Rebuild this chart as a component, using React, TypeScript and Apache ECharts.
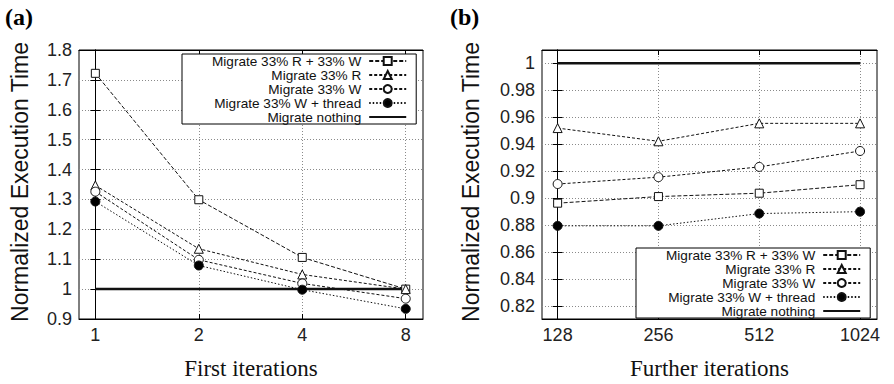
import React, { useEffect, useRef } from "react";
import * as echarts from "echarts";

const seriesNames = [
  "Migrate 33% R + 33% W",
  "Migrate 33% R",
  "Migrate 33% W",
  "Migrate 33% W + thread",
  "Migrate nothing",
];

const firstIterLabels = ["1", "2", "4", "8"];
const furtherIterLabels = ["128", "256", "512", "1024"];

// (a) First iterations
const aRW = [1.722, 1.299, 1.106, 1.0];
const aR = [1.347, 1.135, 1.049, 1.0];
const aW = [1.326, 1.098, 1.019, 0.968];
const aWThread = [1.293, 1.079, 0.998, 0.934];
const aNothing = [1, 1, 1, 1];

// (b) Further iterations
const bRW = [0.8963, 0.9012, 0.9037, 0.91];
const bR = [0.952, 0.9422, 0.9555, 0.9555];
const bW = [0.9105, 0.9156, 0.9232, 0.935];
const bWThread = [0.8795, 0.8795, 0.8886, 0.89];
const bNothing = [1, 1, 1, 1];

const leftYTicks = [0.9, 1.0, 1.1, 1.2, 1.3, 1.4, 1.5, 1.6, 1.7, 1.8];
const rightYTicks = [0.82, 0.84, 0.86, 0.88, 0.9, 0.92, 0.94, 0.96, 0.98, 1.0];

const SANS = "Liberation Sans";
const SERIF = "Liberation Serif";

const styles = [
  { symbol: "rect", size: 8, dash: [4, 2], fill: "#fff", width: 1 },
  { symbol: "triangle", size: 9, dash: [3, 2], fill: "#fff", width: 1 },
  { symbol: "circle", size: 9, dash: [3, 2], fill: "#fff", width: 1 },
  { symbol: "circle", size: 9, dash: [1.5, 2], fill: "#000", width: 1 },
  { symbol: "none", size: 0, dash: "solid", fill: "#000", width: 2.5 },
];

function makeSeries(datasets: number[][], xIdx: number, yIdx: number) {
  return datasets.map((vals, k) => {
    const st = styles[k];
    return {
      type: "line",
      name: seriesNames[k],
      xAxisIndex: xIdx,
      yAxisIndex: yIdx,
      data: vals.map((v, i) => [i, v]),
      symbol: st.symbol,
      symbolSize: st.size,
      showSymbol: st.symbol !== "none",
      lineStyle: { color: "#111", width: st.width, type: st.dash },
      itemStyle: { color: st.fill, borderColor: "#111", borderWidth: 1 },
      z: k === 4 ? 2 : 3,
      silent: true,
    };
  });
}

function xAxes(gridIndex: number, min: number, max: number, labels: string[]) {
  const base = {
    type: "value",
    gridIndex,
    min,
    max,
    axisLine: { show: true, lineStyle: { color: "#000", width: 1 } },
    axisTick: {
      show: true,
      inside: true,
      length: 5,
      customValues: [0, 1, 2, 3],
      lineStyle: { color: "#000" },
    },
  };
  return [
    {
      ...base,
      position: "bottom",
      axisLabel: {
        show: true,
        customValues: [0, 1, 2, 3],
        formatter: (v: number) => labels[Math.round(v)],
        fontFamily: SANS,
        fontSize: 18,
        color: "#222",
        margin: 7,
      },
      splitLine: {
        show: true,
        lineStyle: { color: "#8a8a8a", type: [1, 2], width: 1 },
      },
    },
    {
      ...base,
      position: "top",
      axisLabel: { show: false },
      splitLine: { show: false },
    },
  ];
}

function yAxes(gridIndex: number, min: number, max: number, ticks: number[]) {
  const base = {
    type: "value",
    gridIndex,
    min,
    max,
    axisLine: { show: true, lineStyle: { color: "#000", width: 1 } },
    axisTick: {
      show: true,
      inside: true,
      length: 5,
      customValues: ticks,
      lineStyle: { color: "#000" },
    },
  };
  return [
    {
      ...base,
      position: "left",
      axisLabel: {
        show: true,
        customValues: ticks,
        formatter: (v: number) => String(+v.toFixed(2)),
        fontFamily: SANS,
        fontSize: 18,
        color: "#222",
        margin: 7,
      },
      splitLine: {
        show: true,
        lineStyle: { color: "#8a8a8a", type: [1, 2], width: 1 },
      },
    },
    {
      ...base,
      position: "right",
      axisLabel: { show: false },
      splitLine: { show: false },
    },
  ];
}

function legend(left: number, top: number) {
  return {
    show: true,
    data: seriesNames.map((n, k) =>
      k === 4 ? { name: n, itemStyle: { opacity: 0 } } : { name: n }
    ),
    orient: "vertical",
    align: "right",
    left,
    top,
    selectedMode: false,
    itemWidth: 37,
    itemHeight: 10,
    itemGap: 0,
    padding: [0, 9, 0, 30],
    backgroundColor: "#fff",
    borderColor: "#000",
    borderWidth: 1,
    borderRadius: 0,
    textStyle: {
      fontFamily: SANS,
      fontSize: 13.6,
      color: "#111",
      lineHeight: 13.7,
      padding: [0, 3, 0, 0],
    },
  };
}

export default function App() {
  const ref = useRef<HTMLDivElement>(null);

  useEffect(() => {
    if (!ref.current) return;
    const chart = echarts.init(ref.current, undefined, { renderer: "svg" });
    const option = {
      animation: false,
      backgroundColor: "#fff",
      grid: [
        {
          left: 79,
          top: 50,
          width: 344,
          height: 269,
          show: true,
          borderColor: "#000",
          borderWidth: 1,
          backgroundColor: "transparent",
        },
        {
          left: 542,
          top: 50,
          width: 335,
          height: 269,
          show: true,
          borderColor: "#000",
          borderWidth: 1,
          backgroundColor: "transparent",
        },
      ],
      xAxis: [
        ...xAxes(0, -0.158, 3.167, firstIterLabels),
        ...xAxes(1, -0.155, 3.168, furtherIterLabels),
      ],
      yAxis: [
        ...yAxes(0, 0.9, 1.8, leftYTicks),
        ...yAxes(1, 0.8104, 1.0099, rightYTicks),
      ],
      legend: [legend(182, 54), legend(636, 248)],
      series: [
        ...makeSeries([aRW, aR, aW, aWThread, aNothing], 0, 0),
        ...makeSeries([bRW, bR, bW, bWThread, bNothing], 2, 2),
      ],
      graphic: [
        {
          type: "text",
          left: 5,
          top: 5,
          style: { text: "(a)", font: `bold 24px "${SERIF}"`, fill: "#000" },
        },
        {
          type: "text",
          left: 450,
          top: 5,
          style: { text: "(b)", font: `bold 24px "${SERIF}"`, fill: "#000" },
        },
        {
          type: "text",
          x: 20,
          y: 182,
          rotation: Math.PI / 2,
          style: {
            text: "Normalized Execution Time",
            font: `23px "${SANS}"`,
            fill: "#111",
            textAlign: "center",
            textVerticalAlign: "middle",
          },
        },
        {
          type: "text",
          x: 471,
          y: 182,
          rotation: Math.PI / 2,
          style: {
            text: "Normalized Execution Time",
            font: `23px "${SANS}"`,
            fill: "#111",
            textAlign: "center",
            textVerticalAlign: "middle",
          },
        },
        {
          type: "text",
          x: 251,
          y: 368,
          style: {
            text: "First iterations",
            font: `23px "${SERIF}"`,
            fill: "#111",
            textAlign: "center",
            textVerticalAlign: "middle",
          },
        },
        {
          type: "text",
          x: 709.5,
          y: 368,
          style: {
            text: "Further iterations",
            font: `23px "${SERIF}"`,
            fill: "#111",
            textAlign: "center",
            textVerticalAlign: "middle",
          },
        },
      ],
    };
    chart.setOption(option as any);
    return () => chart.dispose();
  }, []);

  return (
    <div
      ref={ref}
      style={{ position: "absolute", left: 0, top: 0, width: 894, height: 384 }}
    />
  );
}
